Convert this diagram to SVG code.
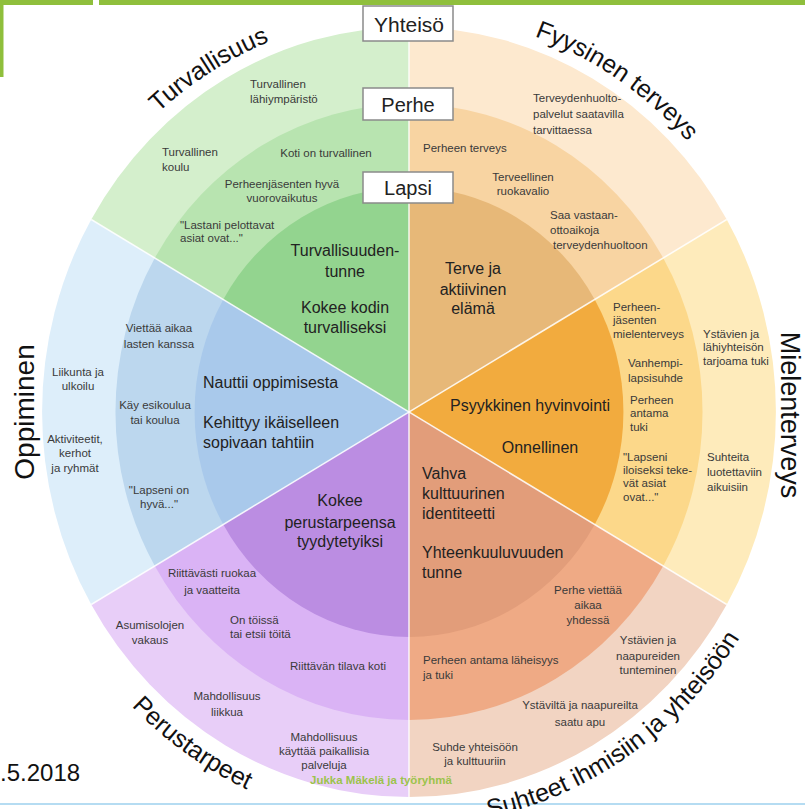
<svg xmlns="http://www.w3.org/2000/svg" width="805" height="809" viewBox="0 0 805 809">
<defs>
<style>
text{font-family:"Liberation Sans",Arial,sans-serif;}
.s{font-size:11.5px;fill:#3a3a3a;}
.m{font-size:16px;fill:#222;}
.h{font-size:25px;fill:#111;}
.c{text-anchor:middle;}
.box{fill:#fff;stroke:#8a8a8a;stroke-width:1.5;}
.bt{font-size:20px;fill:#222;text-anchor:middle;}
.div{stroke:#fff;stroke-width:1.6;stroke-opacity:0.85;fill:none;}
</style>
<path id="pTur" d="M80,212 A380,398 0 0 1 409,14"/>
<path id="pFyy" d="M409,14 A380,398 0 0 1 738,213"/>
<path id="pPer" d="M67.4,619 A394.5,414 0 0 0 409,826"/>
<path id="pSuh" d="M409,826 A394.5,414 0 0 0 750.6,619"/>
</defs>
<rect width="805" height="809" fill="#fff"/>
<g id="frame">
<rect x="0" y="0" width="93" height="5" fill="#8fbf3c"/>
<rect x="99" y="0" width="706" height="5" fill="#8fbf3c"/>
<rect x="0" y="0" width="3.5" height="77" fill="#8fbf3c"/>
<rect x="0" y="803" width="805" height="2" fill="#b5dcf2"/>
</g>
<g id="wheel" transform="translate(409 412) scale(0.953 1)">
<g id="outer">
<path fill="#d4efcc" d="M0,0 L0,-385 A385,385 0 0 0 -333.42,-192.5 Z"/>
<path fill="#fde9cf" d="M0,0 L333.42,-192.5 A385,385 0 0 0 0,-385 Z"/>
<path fill="#feebbb" d="M0,0 L333.42,192.5 A385,385 0 0 0 333.42,-192.5 Z"/>
<path fill="#f2d4c2" d="M0,0 L0,385 A385,385 0 0 0 333.42,192.5 Z"/>
<path fill="#e8cef8" d="M0,0 L-333.42,192.5 A385,385 0 0 0 0,385 Z"/>
<path fill="#ddeefa" d="M0,0 L-333.42,-192.5 A385,385 0 0 0 -333.42,192.5 Z"/>
</g>
<g id="middle">
<path fill="#b8e4b0" d="M0,0 L0,-308 A308,308 0 0 0 -266.74,-154 Z"/>
<path fill="#f8d4a2" d="M0,0 L266.74,-154 A308,308 0 0 0 0,-308 Z"/>
<path fill="#fcd88a" d="M0,0 L266.74,154 A308,308 0 0 0 266.74,-154 Z"/>
<path fill="#efaa85" d="M0,0 L0,308 A308,308 0 0 0 266.74,154 Z"/>
<path fill="#dab3f5" d="M0,0 L-266.74,154 A308,308 0 0 0 0,308 Z"/>
<path fill="#bcd7ee" d="M0,0 L-266.74,-154 A308,308 0 0 0 -266.74,154 Z"/>
</g>
<g id="inner">
<path fill="#93d48f" d="M0,0 L0,-225 A225,225 0 0 0 -194.86,-112.5 Z"/>
<path fill="#e7b878" d="M0,0 L194.86,-112.5 A225,225 0 0 0 0,-225 Z"/>
<path fill="#f2ab3e" d="M0,0 L194.86,112.5 A225,225 0 0 0 194.86,-112.5 Z"/>
<path fill="#e29d7a" d="M0,0 L0,225 A225,225 0 0 0 194.86,112.5 Z"/>
<path fill="#bb8de2" d="M0,0 L-194.86,112.5 A225,225 0 0 0 0,225 Z"/>
<path fill="#a9c9eb" d="M0,0 L-194.86,-112.5 A225,225 0 0 0 -194.86,112.5 Z"/>
</g>
<g id="dividers" class="div">
<path d="M0,-385 V385"/>
<path d="M-333.42,-192.5 L333.42,192.5"/>
<path d="M-333.42,192.5 L333.42,-192.5"/>
</g>
</g>

<g id="turvallisuus">
<text class="h"><textPath href="#pTur" startOffset="48%" text-anchor="middle">Turvallisuus</textPath></text>
<text class="s" x="250" y="88">Turvallinen<tspan x="250" y="103">lähiympäristö</tspan></text>
<text class="s" x="162" y="156">Turvallinen<tspan x="162" y="171">koulu</tspan></text>
<text class="s c" x="326" y="157">Koti on turvallinen</text>
<text class="s c" x="282" y="188">Perheenjäsenten hyvä<tspan x="282" y="202">vuorovaikutus</tspan></text>
<text class="s" x="180" y="229">"Lastani pelottavat<tspan x="180" y="242">asiat ovat..."</tspan></text>
<text class="m c" x="345" y="256">Turvallisuuden-<tspan x="345" y="277">tunne</tspan><tspan x="345" y="313">Kokee kodin</tspan><tspan x="345" y="333">turvalliseksi</tspan></text>
</g>

<g id="fyysinen-terveys">
<text class="h"><textPath href="#pFyy" startOffset="55%" text-anchor="middle">Fyysinen terveys</textPath></text>
<text class="s" x="533" y="102">Terveydenhuolto-<tspan x="533" y="118">palvelut saatavilla</tspan><tspan x="533" y="134">tarvittaessa</tspan></text>
<text class="s" x="423" y="152">Perheen terveys</text>
<text class="s c" x="523" y="181">Terveellinen<tspan x="523" y="195">ruokavalio</tspan></text>
<text class="s" x="550" y="219">Saa vastaan-<tspan x="550" y="234">ottoaikoja</tspan><tspan x="553" y="249">terveydenhuoltoon</tspan></text>
<text class="m c" x="473" y="274">Terve ja<tspan x="473" y="295">aktiivinen</tspan><tspan x="473" y="314">elämä</tspan></text>
</g>

<g id="mielenterveys">
<text class="h" transform="translate(781 415) rotate(90)" text-anchor="middle" style="font-size:27px">Mielenterveys</text>
<text class="s" x="613" y="311">Perheen-<tspan x="613" y="324">jäsenten</tspan><tspan x="613" y="338">mielenterveys</tspan></text>
<text class="s" x="628" y="367">Vanhempi-<tspan x="628" y="382">lapsisuhde</tspan></text>
<text class="s" x="630" y="404">Perheen<tspan x="630" y="417">antama</tspan><tspan x="630" y="431">tuki</tspan></text>
<text class="s" x="623" y="461">"Lapseni<tspan x="623" y="474">iloiseksi teke-</tspan><tspan x="623" y="487">vät asiat</tspan><tspan x="623" y="501">ovat..."</tspan></text>
<text class="s" x="703" y="338">Ystävien ja<tspan x="703" y="351">lähiyhteisön</tspan><tspan x="703" y="365">tarjoama tuki</tspan></text>
<text class="s" x="707" y="461">Suhteita<tspan x="707" y="476">luotettaviin</tspan><tspan x="707" y="491">aikuisiin</tspan></text>
<text class="m c" x="530" y="411">Psyykkinen hyvinvointi</text>
<text class="m c" x="540" y="453">Onnellinen</text>
</g>

<g id="suhteet">
<text class="h"><textPath href="#pSuh" startOffset="57%" text-anchor="middle">Suhteet ihmisiin ja yhteisöön</textPath></text>
<text class="m" x="422" y="479">Vahva<tspan x="422" y="499">kulttuurinen</tspan><tspan x="422" y="519">identiteetti</tspan></text>
<text class="m" x="422" y="558">Yhteenkuuluvuuden<tspan x="422" y="578">tunne</tspan></text>
<text class="s c" x="588" y="594">Perhe viettää<tspan x="588" y="609">aikaa</tspan><tspan x="588" y="624">yhdessä</tspan></text>
<text class="s" x="423" y="664">Perheen antama läheisyys<tspan x="423" y="679">ja tuki</tspan></text>
<text class="s c" x="648" y="644">Ystävien ja<tspan x="648" y="660">naapureiden</tspan><tspan x="648" y="674">tunteminen</tspan></text>
<text class="s c" x="580" y="709">Ystäviltä ja naapureilta<tspan x="580" y="726">saatu apu</tspan></text>
<text class="s c" x="475" y="751">Suhde yhteisöön<tspan x="475" y="765">ja kulttuuriin</tspan></text>
</g>

<g id="perustarpeet">
<text class="h"><textPath href="#pPer" startOffset="43%" text-anchor="middle">Perustarpeet</textPath></text>
<text class="m c" x="340" y="506">Kokee<tspan x="340" y="528">perustarpeensa</tspan><tspan x="340" y="547">tyydytetyiksi</tspan></text>
<text class="s c" x="212" y="577">Riittävästi ruokaa<tspan x="212" y="594">ja vaatteita</tspan></text>
<text class="s" x="230" y="624">On töissä<tspan x="230" y="638">tai etsii töitä</tspan></text>
<text class="s c" x="150" y="629">Asumisolojen<tspan x="150" y="644">vakaus</tspan></text>
<text class="s c" x="338" y="670">Riittävän tilava koti</text>
<text class="s c" x="227" y="700">Mahdollisuus<tspan x="227" y="716">liikkua</tspan></text>
<text class="s c" x="324" y="741">Mahdollisuus<tspan x="324" y="755">käyttää paikallisia</tspan><tspan x="324" y="769">palveluja</tspan></text>
</g>

<g id="oppiminen">
<text class="h" transform="translate(34 412) rotate(-90)" text-anchor="middle" style="font-size:28px">Oppiminen</text>
<text class="s c" x="159" y="332">Viettää aikaa<tspan x="159" y="348">lasten kanssa</tspan></text>
<text class="s c" x="78" y="376">Liikunta ja<tspan x="78" y="390">ulkoilu</tspan></text>
<text class="s c" x="155" y="409">Käy esikoulua<tspan x="155" y="424">tai koulua</tspan></text>
<text class="s c" x="75" y="443">Aktiviteetit,<tspan x="75" y="457">kerhot</tspan><tspan x="75" y="472">ja ryhmät</tspan></text>
<text class="s c" x="159" y="494">"Lapseni on<tspan x="159" y="508">hyvä..."</tspan></text>
<text class="m" x="203" y="388">Nauttii oppimisesta</text>
<text class="m" x="203" y="428">Kehittyy ikäiselleen<tspan x="203" y="448">sopivaan tahtiin</tspan></text>
</g>

<g id="level-yhteiso"><rect class="box" x="363" y="6" width="90" height="35"/><text class="bt" x="409" y="32" style="font-size:21px">Yhteisö</text></g>
<g id="level-perhe"><rect class="box" x="363" y="88" width="90" height="32"/><text class="bt" x="408" y="112">Perhe</text></g>
<g id="level-lapsi"><rect class="box" x="363" y="172" width="90" height="31"/><text class="bt" x="408" y="195">Lapsi</text></g>

<g id="footer">
<text x="0" y="781" style="font-size:24px;fill:#111">.5.2018</text>
<text x="310" y="784" style="font-size:11.5px;font-weight:bold;fill:#9cc34c">Jukka Mäkelä ja työryhmä</text>
</g>
</svg>
